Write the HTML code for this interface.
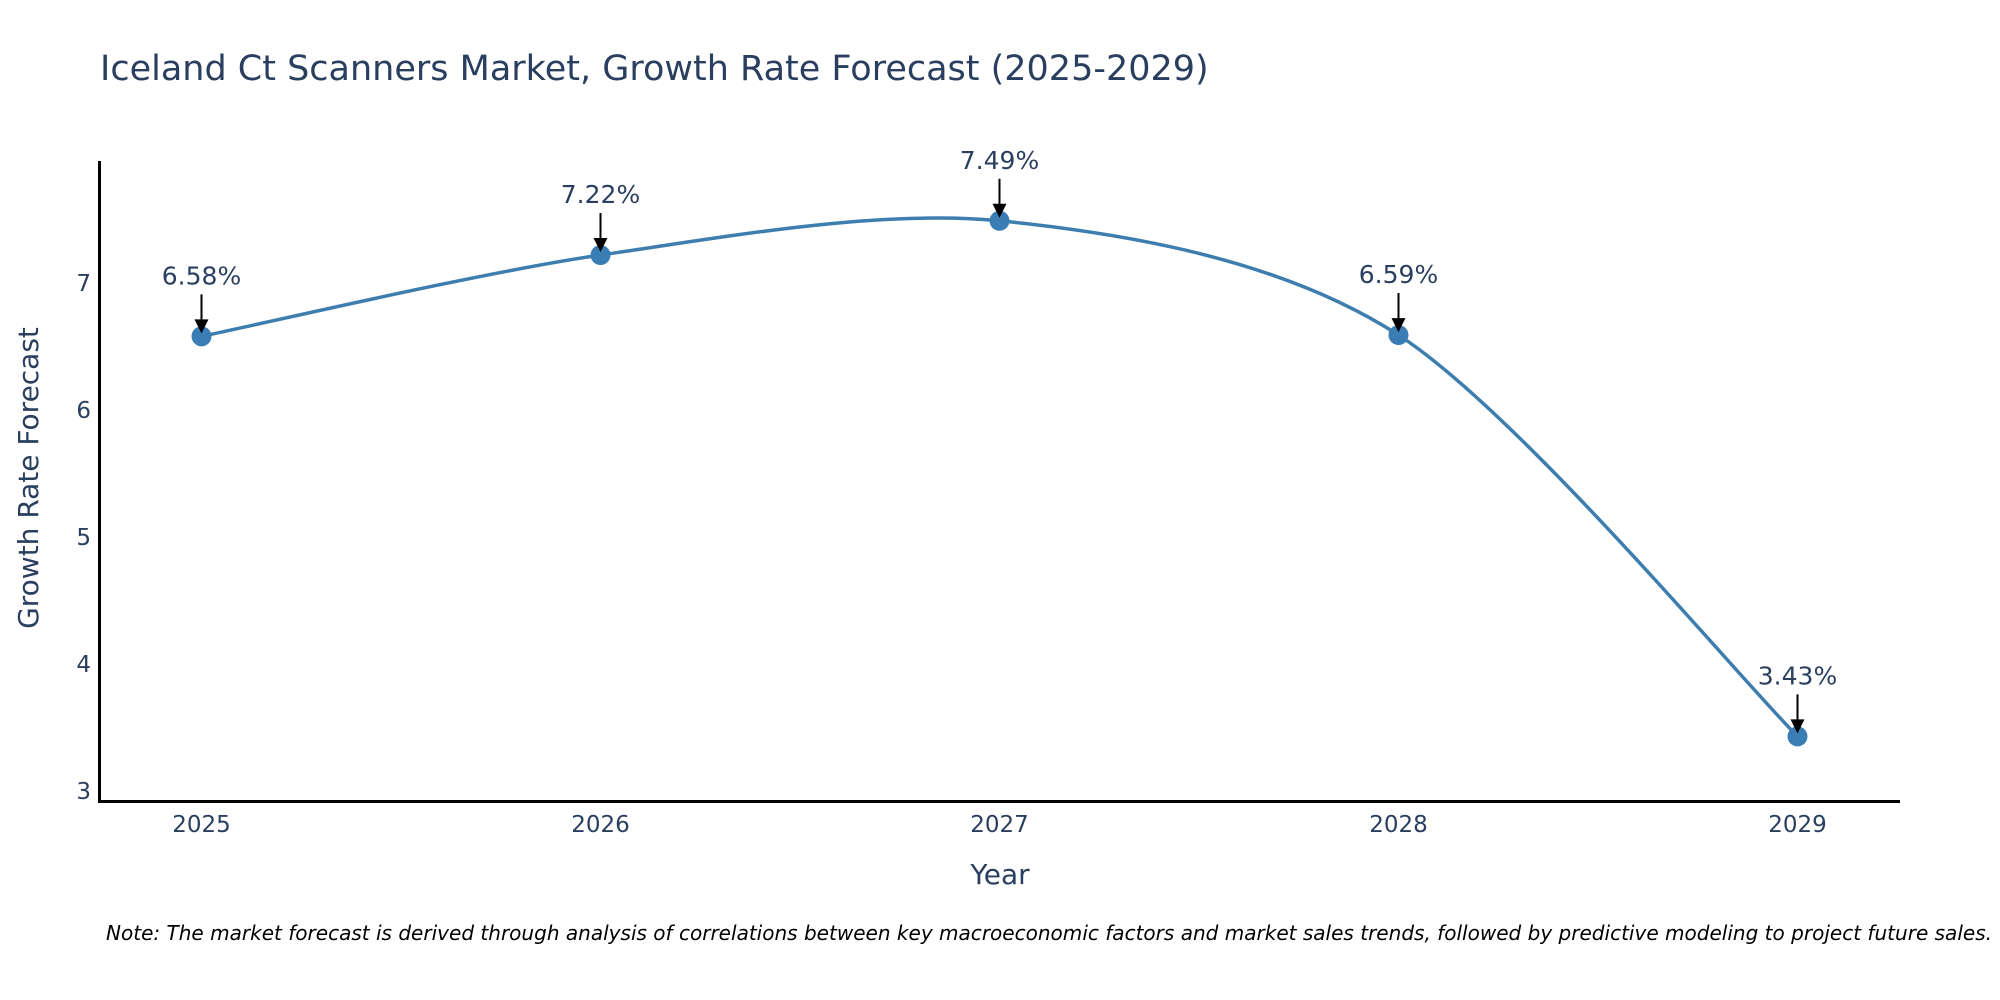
<!DOCTYPE html>
<html><head><meta charset="utf-8"><style>
html,body{margin:0;padding:0;background:#fff;}
svg{display:block;font-family:"DejaVu Sans","Liberation Sans",sans-serif;}
</style></head><body>
<svg id="chart" width="2000" height="1000" viewBox="0 0 2000 1000">
<text x="100" y="80" font-size="35" fill="#2a3f5f">Iceland Ct Scanners Market, Growth Rate Forecast (2025-2029)</text>
<g id="plot"></g>
<text x="1000" y="884" font-size="28" fill="#2a3f5f" text-anchor="middle">Year</text>
<text transform="translate(38,478) rotate(-90)" font-size="28" fill="#2a3f5f" text-anchor="middle">Growth Rate Forecast</text>
<text x="1992" y="940" font-size="20" font-style="italic" fill="#000" text-anchor="end" textLength="1886" lengthAdjust="spacingAndGlyphs">Note: The market forecast is derived through analysis of correlations between key macroeconomic factors and market sales trends, followed by predictive modeling to project future sales.</text>
</svg>
<script>
const years = [2025, 2026, 2027, 2028, 2029];
const growth = [6.58, 7.22, 7.49, 6.59, 3.43];
const labels = ["6.58%", "7.22%", "7.49%", "6.59%", "3.43%"];
const yTicks = [3, 4, 5, 6, 7];

const NS = "http://www.w3.org/2000/svg";
const g = document.getElementById("plot");
const X = v => 201.5 + (v - 2025) * 399;
const Y = v => 791 - (v - 3) * 127;
function mk(tag, attrs, parent) {
  const e = document.createElementNS(NS, tag);
  for (const k in attrs) e.setAttribute(k, attrs[k]);
  (parent || g).appendChild(e);
  return e;
}
let ax = mk("line", {x1: 99.5, y1: 161, x2: 99.5, y2: 803, stroke: "#000", "stroke-width": 3});


ax = mk("line", {x1: 98, y1: 801.5, x2: 1900, y2: 801.5, stroke: "#000", "stroke-width": 3});


yTicks.forEach(t => {
  const e = mk("text", {x: 91, y: Y(t) + 8, "font-size": 23, fill: "#2a3f5f", "text-anchor": "end"});
  e.textContent = t;
  
  
});
years.forEach(yr => {
  const e = mk("text", {x: X(yr), y: 832, "font-size": 23, fill: "#2a3f5f", "text-anchor": "middle"});
  e.textContent = yr;
  
  
});
const pts = years.map((yr, i) => [X(yr), Y(growth[i])]);
let d = "M" + pts[0][0] + "," + pts[0][1];
for (let i = 0; i < pts.length - 1; i++) {
  const p0 = pts[Math.max(i - 1, 0)], p1 = pts[i], p2 = pts[i + 1], p3 = pts[Math.min(i + 2, pts.length - 1)];
  const t = 0.15;
  const c1 = [p1[0] + (p2[0] - p0[0]) * t, p1[1] + (p2[1] - p0[1]) * t];
  const c2 = [p2[0] - (p3[0] - p1[0]) * t, p2[1] - (p3[1] - p1[1]) * t];
  d += " C" + c1 + " " + c2 + " " + p2;
}
const line = mk("path", {d: d, fill: "none", stroke: "#3d7eaf", "stroke-width": 3.5});


pts.forEach((p, i) => {
  const c = mk("circle", {cx: p[0], cy: p[1], r: 10, fill: "#3a7db5"});
  
  
  const a = mk("line", {x1: p[0], y1: p[1] - 42, x2: p[0], y2: p[1] - 14, stroke: "#000", "stroke-width": 2});
  
  
  const h = mk("polygon", {points: (p[0] - 7) + "," + (p[1] - 17) + " " + (p[0] + 7) + "," + (p[1] - 17) + " " + p[0] + "," + (p[1] - 3), fill: "#000"});
  
  
  const t = mk("text", {x: p[0], y: p[1] - 52, "font-size": 25, fill: "#2a3f5f", "text-anchor": "middle"});
  t.textContent = labels[i];
  
  
});
</script>
</body></html>
